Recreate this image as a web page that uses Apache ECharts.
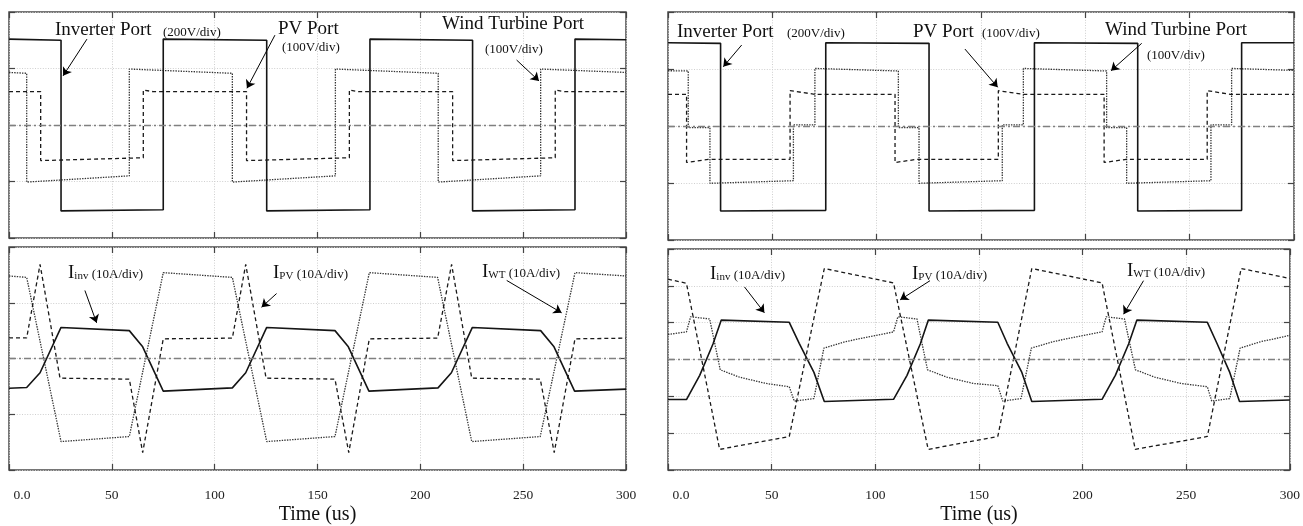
<!DOCTYPE html>
<html>
<head>
<meta charset="utf-8">
<script src="https://cdn.jsdelivr.net/npm/echarts@6.0.0/dist/echarts.min.js"></script>
<style>
  html, body { margin: 0; padding: 0; background: #fff; }
  #chart { width: 1303px; height: 526px; }
</style>
</head>
<body>
<div id="chart"></div>
<script>
// values are in scope divisions, time in us
const timeAxis = { min: 0, max: 300, step: 50 };
const divRange = [2, 2, 2, 3]; // +/- divisions of the 4 plots

// left case, port voltages
const invVoltL = [[0,1.52],[25.3,1.50],[25.3,-1.52],[75,-1.50],[75,1.52],[125.3,1.50],[125.3,-1.52],[175.5,-1.50],[175.5,1.52],[225.4,1.50],[225.4,-1.52],[275.2,-1.50],[275.2,1.52],[300,1.51]];
const pvVoltL = [[0,0.59],[15.4,0.59],[15.4,-0.63],[65.3,-0.58],[65.3,0.62],[70,0.59],[115.5,0.59],[115.5,-0.63],[165.5,-0.58],[165.5,0.62],[170,0.59],[215.7,0.59],[215.7,-0.63],[265.6,-0.58],[265.6,0.62],[270,0.59],[300,0.59]];
const wtVoltL = [[0,0.93],[8.6,0.915],[8.6,-1.01],[58.5,-0.90],[58.5,0.99],[108.6,0.915],[108.6,-1.01],[158.7,-0.90],[158.7,0.99],[208.7,0.915],[208.7,-1.01],[258.5,-0.90],[258.5,0.99],[300,0.93]];

// left case, port currents
const invCurL = [[0,-0.534],[8.6,-0.52],[15.1,-0.255],[25.3,0.557],[58.5,0.50],[65,0.21],[75,-0.586],[108.6,-0.527],[115.1,-0.255],[125.3,0.557],[158.5,0.50],[165,0.21],[175,-0.586],[208.6,-0.527],[215.1,-0.255],[225.3,0.557],[258.5,0.50],[265,0.21],[275,-0.586],[300,-0.55]];
const pvCurL = [[0,0.37],[8.6,0.37],[15.1,1.687],[24.8,-0.353],[58.5,-0.37],[65,-1.687],[75,0.353],[108.6,0.365],[115.1,1.687],[125,-0.353],[158.5,-0.37],[165.2,-1.687],[175.2,0.353],[208.4,0.365],[215.2,1.687],[225,-0.353],[258.3,-0.37],[265.1,-1.687],[275.2,0.353],[300,0.365]];
const wtCurL = [[0,1.48],[8.6,1.455],[25.3,-1.49],[58.5,-1.40],[75,1.54],[108.6,1.455],[125.3,-1.49],[158.5,-1.40],[175.2,1.54],[208.4,1.455],[225,-1.49],[258.3,-1.40],[275.2,1.54],[300,1.48]];

// right case, port voltages
const invVoltR = [[0,1.46],[25.2,1.45],[25.2,-1.49],[75.6,-1.48],[75.6,1.46],[125.1,1.45],[125.1,-1.49],[175.6,-1.48],[175.6,1.46],[225.1,1.45],[225.1,-1.49],[274.9,-1.48],[274.9,1.46],[300,1.46]];
const pvVoltR = [[0,0.556],[8.9,0.556],[8.9,-0.64],[19.3,-0.585],[58.5,-0.585],[58.5,0.62],[70.4,0.556],[108.8,0.556],[108.8,-0.64],[119.3,-0.585],[158.3,-0.585],[158.3,0.62],[170.3,0.556],[209,0.556],[209,-0.64],[219.5,-0.585],[258.4,-0.585],[258.4,0.62],[269.5,0.556],[300,0.556]];
const wtVoltR = [[0,0.97],[9.7,0.965],[9.7,-0.03],[20.1,-0.03],[20.1,-1.005],[60.1,-0.96],[60.1,0.02],[70.4,0.02],[70.4,1.01],[110.4,0.965],[110.4,-0.03],[120.3,-0.03],[120.3,-1.005],[160.2,-0.96],[160.2,0.02],[170.3,0.02],[170.3,1.01],[210.2,0.965],[210.2,-0.03],[219.8,-0.03],[219.8,-1.005],[260.2,-0.96],[260.2,0.02],[270.1,0.02],[270.1,1.01],[300,0.975]];

// right case, port currents
const invCurR = [[0,-1.087],[8.9,-1.087],[15.3,-0.43],[21.7,0.42],[25.7,1.07],[58.5,1.01],[63.3,0.44],[70.4,-0.35],[75.4,-1.14],[108.8,-1.08],[115.3,-0.43],[121.7,0.42],[125.6,1.07],[159.1,1.01],[163.6,0.44],[170.7,-0.35],[175.5,-1.14],[209.4,-1.08],[215.8,-0.43],[222.2,0.42],[226.2,1.07],[260.2,1.01],[264.8,0.44],[271,-0.35],[275.7,-1.14],[300,-1.1]];
const pvCurR = [[0,2.18],[8.9,2.07],[24.9,-2.44],[58.5,-2.09],[75.4,2.47],[108.8,2.08],[125.5,-2.44],[159.1,-2.09],[175.5,2.47],[209.4,2.08],[225.4,-2.44],[260.2,-2.09],[276.5,2.47],[300,2.2]];
const wtCurR = [[0,0.68],[8.9,0.75],[10.9,1.16],[20.1,1.10],[25.2,-0.28],[34.5,-0.48],[47.3,-0.65],[58.5,-0.74],[60.9,-1.13],[70.4,-1.06],[75.2,0.31],[85.6,0.485],[96.8,0.616],[108.8,0.75],[110.9,1.16],[120.1,1.10],[125.2,-0.28],[134.5,-0.48],[147.3,-0.65],[159.1,-0.71],[161.5,-1.13],[170.3,-1.06],[175.3,0.31],[185.8,0.485],[197,0.616],[209.4,0.75],[211.4,1.16],[220.2,1.10],[225.5,-0.28],[234.8,-0.48],[247.5,-0.65],[260.2,-0.74],[262.3,-1.13],[271,-1.06],[276,0.31],[286,0.485],[297,0.616],[300,0.66]];

// annotation arrows per plot: [[t0, v0], [t1, v1]], head at the second point
const arrowsVoltL = [[[37.9,1.52],[26.3,0.87]], [[129.3,1.59],[115.7,0.65]], [[246.8,1.15],[257.7,0.78]]];
const arrowsCurL = [[[36.9,1.22],[42.6,0.64]], [[130.1,1.165],[122.8,0.92]], [[242,1.40],[268.7,0.82]]];
const arrowsVoltR = [[[35.3,1.42],[26.5,1.04]], [[142.3,1.35],[158.0,0.68]], [[227.0,1.45],[212.3,0.97]]];
const arrowsCurR = [[[36.9,1.97],[46.5,1.27]], [[126.4,2.14],[112,1.62]], [[229.4,2.14],[219.8,1.23]]];

const FONT = '"Liberation Serif", "Times New Roman", serif';
const INK = '#111';

const grids = [
  { left: 9, top: 12, width: 617, height: 226 },
  { left: 9, top: 247, width: 617, height: 230 },
  { left: 668, top: 12, width: 626, height: 228 },
  { left: 668, top: 249, width: 626, height: 229 }
];
const hasTimeLabels = [false, true, false, true];

const tickStyle = { show: true, inside: true, length: 6, lineStyle: { color: '#444', width: 1.2 } };
const noLine = { show: false, onZero: false };
const gridLine = { show: true, lineStyle: { color: '#cfcfcf', width: 1, type: [1, 1.6] } };

const xAxes = [];
const yAxes = [];
grids.forEach((g, i) => {
  const r = divRange[i];
  xAxes.push({
    gridIndex: i, type: 'value', position: 'bottom',
    min: timeAxis.min, max: timeAxis.max, interval: timeAxis.step,
    axisLine: noLine, axisTick: tickStyle, splitLine: gridLine,
    axisLabel: {
      show: hasTimeLabels[i], margin: 18, color: '#222', fontFamily: FONT, fontSize: 13.5,
      formatter: v => (v === 0 ? '{f|0.0}' : String(v)),
      rich: { f: { fontFamily: FONT, fontSize: 13.5, color: '#222', padding: [0, 0, 0, 26] } }
    },
    name: hasTimeLabels[i] ? 'Time (us)' : '',
    nameLocation: 'middle', nameGap: 35,
    nameTextStyle: { fontFamily: FONT, fontSize: 20, color: INK }
  });
  xAxes.push({
    gridIndex: i, type: 'value', position: 'top',
    min: timeAxis.min, max: timeAxis.max, interval: timeAxis.step,
    axisLine: noLine, axisTick: tickStyle, axisLabel: { show: false }, splitLine: { show: false }
  });
  yAxes.push({
    gridIndex: i, type: 'value', position: 'left', min: -r, max: r, interval: 1,
    axisLine: noLine, axisTick: tickStyle, axisLabel: { show: false }, splitLine: gridLine
  });
  yAxes.push({
    gridIndex: i, type: 'value', position: 'right', min: -r, max: r, interval: 1,
    axisLine: noLine, axisTick: tickStyle, axisLabel: { show: false }, splitLine: { show: false }
  });
});

const solid = { color: '#151515', width: 1.6, type: 'solid' };
const dashed = { color: '#1a1a1a', width: 1.3, type: [4, 3] };
const dotted = { color: '#333', width: 1.3, type: [1.4, 1.2] };

function trace(name, gi, data, style) {
  return {
    name, type: 'line', xAxisIndex: gi * 2, yAxisIndex: gi * 2, data,
    symbol: 'none', showSymbol: false, lineStyle: style, silent: true, z: 3
  };
}
function overlay(gi, arrows) {
  return [
    {
      type: 'line', xAxisIndex: gi * 2, yAxisIndex: gi * 2, data: [], silent: true, z: 2,
      markLine: {
        silent: true, symbol: 'none', label: { show: false }, animation: false,
        lineStyle: { color: '#808080', width: 1.3, type: [7, 3, 2, 3] },
        data: [{ yAxis: 0 }]
      }
    },
    {
      type: 'line', xAxisIndex: gi * 2, yAxisIndex: gi * 2, data: [], silent: true, z: 4,
      markLine: {
        silent: true, symbol: ['none', 'arrow'], symbolSize: 8, label: { show: false }, animation: false,
        lineStyle: { color: '#000', width: 1, type: 'solid' },
        data: arrows.map(a => [{ coord: a[0] }, { coord: a[1] }])
      }
    }
  ];
}

const series = [
  trace('Wind Turbine Port', 0, wtVoltL, dotted),
  trace('PV Port', 0, pvVoltL, dashed),
  trace('Inverter Port', 0, invVoltL, solid),
  trace('IWT', 1, wtCurL, dotted),
  trace('IPV', 1, pvCurL, dashed),
  trace('Iinv', 1, invCurL, solid),
  trace('Wind Turbine Port', 2, wtVoltR, dotted),
  trace('PV Port', 2, pvVoltR, dashed),
  trace('Inverter Port', 2, invVoltR, solid),
  trace('IWT', 3, wtCurR, dotted),
  trace('IPV', 3, pvCurR, dashed),
  trace('Iinv', 3, invCurR, solid),
  ...overlay(0, arrowsVoltL),
  ...overlay(1, arrowsCurL),
  ...overlay(2, arrowsVoltR),
  ...overlay(3, arrowsCurR)
];

function note(text, x, y, size) {
  return { type: 'text', x, y, z: 10, style: { text, fontFamily: FONT, fontSize: size, fill: INK, align: 'left', verticalAlign: 'middle' } };
}
const subRich = {
  i: { fontFamily: FONT, fontSize: 19, fill: INK, verticalAlign: 'bottom' },
  s: { fontFamily: FONT, fontSize: 11, fill: INK, verticalAlign: 'bottom', padding: [0, 0, 1, 0] },
  u: { fontFamily: FONT, fontSize: 13, fill: INK, verticalAlign: 'bottom', padding: [0, 0, 1, 0] }
};
function currentNote(sub, x, y) {
  return { type: 'text', x, y, z: 10, style: { text: '{i|I}{s|' + sub + '} {u|(10A/div)}', rich: subRich, fill: INK, align: 'left', verticalAlign: 'middle' } };
}

const graphic = [
  note('Inverter Port', 55, 30, 19), note('(200V/div)', 163, 33, 13),
  note('PV Port', 278, 29, 19), note('(100V/div)', 282, 48, 13),
  note('Wind Turbine Port', 442, 24, 19), note('(100V/div)', 485, 50, 13),
  note('Inverter Port', 677, 32, 19), note('(200V/div)', 787, 34, 13),
  note('PV Port', 913, 32, 19), note('(100V/div)', 982, 34, 13),
  note('Wind Turbine Port', 1105, 30, 19), note('(100V/div)', 1147, 56, 13),
  currentNote('inv', 68, 273), currentNote('PV', 273, 273), currentNote('WT', 482, 272),
  currentNote('inv', 710, 274), currentNote('PV', 912, 274), currentNote('WT', 1127, 271)
];

const chart = echarts.init(document.getElementById('chart'), null, { renderer: 'canvas' });
chart.setOption({
  backgroundColor: '#fff',
  animation: false,
  grid: grids.map(g => Object.assign({ show: true, borderColor: '#4a4a4a', borderWidth: 1.5, containLabel: false }, g)),
  xAxis: xAxes,
  yAxis: yAxes,
  series,
  graphic
});
</script>
</body>
</html>
